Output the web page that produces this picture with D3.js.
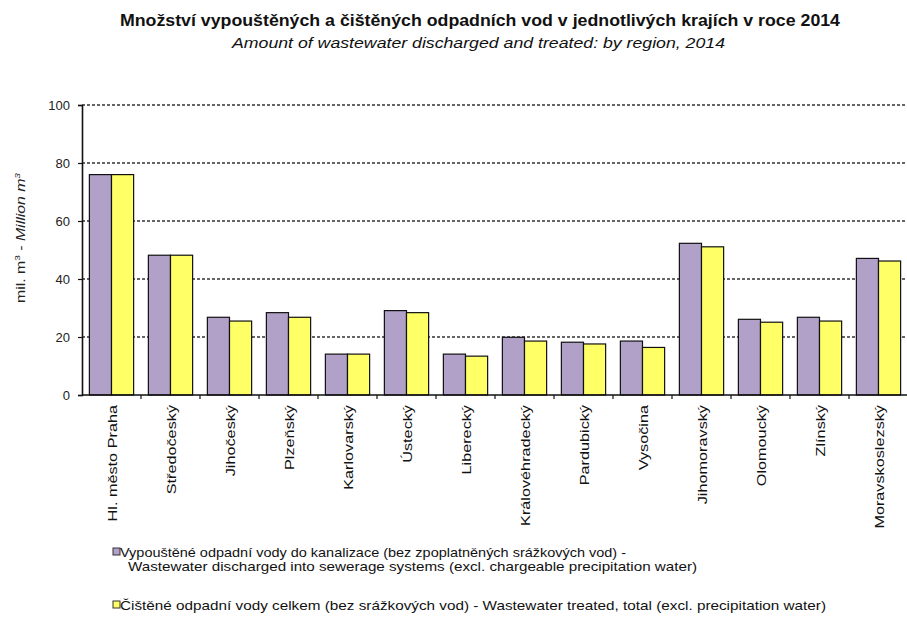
<!DOCTYPE html>
<html>
<head>
<meta charset="utf-8">
<script src="https://cdn.jsdelivr.net/npm/d3@7"></script>
<style>
  html, body { margin: 0; padding: 0; background: #fff; overflow: hidden; }
  svg { display: block; font-family: "Liberation Sans", Arial, sans-serif; }
</style>
</head>
<body>
<svg id="chart" width="907" height="617"></svg>
<script>
// Regions of the Czech Republic
const regions = [
  "Hl. město Praha", "Středočeský", "Jihočeský", "Plzeňský", "Karlovarský",
  "Ústecký", "Liberecký", "Královéhradecký", "Pardubický", "Vysočina",
  "Jihomoravský", "Olomoucký", "Zlínský", "Moravskoslezský"
];
// Wastewater discharged into sewerage systems, mil. m3
const discharged = [76.0, 48.2, 26.8, 28.4, 14.1, 29.1, 14.1, 19.9, 18.2, 18.6, 52.3, 26.1, 26.8, 47.1];
// Wastewater treated, total, mil. m3
const treated = [76.0, 48.2, 25.5, 26.8, 14.1, 28.4, 13.4, 18.6, 17.6, 16.4, 51.1, 25.1, 25.5, 46.2];
const yTicks = [0, 20, 40, 60, 80, 100];
const seriesKeys = ["discharged", "treated"];
const seriesColors = ["#b1a0c8", "#ffff66"];

const svg = d3.select("#chart");
const plotLeft = 82, plotRight = 908, plotTop = 105, plotBottom = 395;

const x0 = d3.scaleBand().domain(regions).range([plotLeft, plotRight])
  .paddingInner(0.25).paddingOuter(0.125);
const x1 = d3.scaleBand().domain(seriesKeys).range([0, x0.bandwidth()]);
const y = d3.scaleLinear().domain([0, 100]).range([plotBottom, plotTop]);
const color = d3.scaleOrdinal().domain(seriesKeys).range(seriesColors);

// Title (tall, condensed lettering)
svg.append("text").attr("x", 480).attr("y", 26).attr("text-anchor", "middle")
  .attr("font-size", 17).attr("font-weight", "bold").attr("fill", "#111")
  .attr("textLength", 720).attr("lengthAdjust", "spacingAndGlyphs")
  .text("Množství vypouštěných a čištěných odpadních vod v jednotlivých krajích v roce 2014");
svg.append("text").attr("x", 478.5).attr("y", 47.5).attr("text-anchor", "middle")
  .attr("font-size", 15.5).attr("font-style", "italic").attr("fill", "#111")
  .attr("textLength", 493).attr("lengthAdjust", "spacingAndGlyphs")
  .text("Amount of wastewater discharged and treated: by region, 2014");

// Dashed gridlines
svg.append("g").selectAll("line").data(yTicks.filter(d => d > 0)).join("line")
  .attr("x1", plotLeft).attr("x2", 907)
  .attr("y1", d => y(d)).attr("y2", d => y(d))
  .attr("stroke", "#333").attr("stroke-width", 1.4)
  .attr("stroke-dasharray", "3,2");

// Bars
const rows = regions.map((r, i) => ({ region: r, values: [
  { key: "discharged", value: discharged[i] },
  { key: "treated", value: treated[i] }
]}));
svg.append("g").selectAll("g").data(rows).join("g")
  .attr("transform", d => `translate(${x0(d.region)},0)`)
  .selectAll("rect").data(d => d.values).join("rect")
  .attr("x", d => x1(d.key))
  .attr("y", d => y(d.value))
  .attr("width", x1.bandwidth())
  .attr("height", d => y(0) - y(d.value))
  .attr("fill", d => color(d.key))
  .attr("stroke", "#111").attr("stroke-width", 1.2);

// Y axis
const yAxis = svg.append("g").attr("transform", `translate(${plotLeft},0)`)
  .call(d3.axisLeft(y).tickValues(yTicks).tickSize(4).tickPadding(8));
yAxis.select(".domain").attr("stroke", "#111").attr("stroke-width", 1.6);
yAxis.selectAll(".tick line").attr("stroke", "#111").attr("stroke-width", 1.2);
yAxis.selectAll(".tick text").attr("font-size", 13).attr("fill", "#222")
  .attr("font-family", "Liberation Sans, Arial, sans-serif");

// X axis line and category boundary ticks
const step = x0.step();
svg.append("line").attr("x1", plotLeft).attr("x2", 907).attr("y1", plotBottom).attr("y2", plotBottom)
  .attr("stroke", "#111").attr("stroke-width", 1.6);
svg.append("g").selectAll("line").data(regions.slice(1)).join("line")
  .attr("x1", d => x0(d) - step * x0.paddingInner() / 2)
  .attr("x2", d => x0(d) - step * x0.paddingInner() / 2)
  .attr("y1", plotBottom).attr("y2", plotBottom + 4)
  .attr("stroke", "#111").attr("stroke-width", 1.2);

// Rotated category labels
svg.append("g").selectAll("text").data(regions).join("text")
  .attr("transform", d => `translate(${x0(d) + x0.bandwidth() / 2 + 1},${plotBottom + 10}) rotate(-90) scale(1.3,1)`)
  .attr("text-anchor", "end").attr("dy", "0.35em")
  .attr("font-size", 12.5).attr("fill", "#111")
  .text(d => d);

// Y axis title
const yt = svg.append("text")
  .attr("transform", "translate(25,238) rotate(-90)")
  .attr("text-anchor", "middle").attr("font-size", 12.5).attr("fill", "#222")
  .attr("textLength", 130).attr("lengthAdjust", "spacingAndGlyphs");
yt.append("tspan").text("mil. m");
yt.append("tspan").attr("font-size", 8).attr("dy", -5).text("3");
yt.append("tspan").attr("dy", 5).text(" - ");
yt.append("tspan").attr("font-style", "italic").text("Million m");
yt.append("tspan").attr("font-style", "italic").attr("font-size", 8).attr("dy", -5).text("3");

// Legend
const legendItems = [
  { key: "discharged", y: 552, lines: [
    { text: "Vypouštěné odpadní vody do kanalizace (bez zpoplatněných srážkových vod) -", x: 120, len: 506 },
    { text: "Wastewater discharged into sewerage systems (excl. chargeable precipitation water)", x: 128, len: 569 }
  ]},
  { key: "treated", y: 605, lines: [
    { text: "Čištěné odpadní vody celkem (bez srážkových vod) - Wastewater treated, total (excl. precipitation water)", x: 120, len: 706 }
  ]}
];
const lg = svg.append("g").selectAll("g").data(legendItems).join("g");
lg.append("rect").attr("x", 113).attr("y", d => d.y - 4).attr("width", 7).attr("height", 7)
  .attr("fill", d => color(d.key)).attr("stroke", "#333").attr("stroke-width", 1);
lg.each(function(d) {
  d3.select(this).selectAll("text").data(d.lines).join("text")
    .attr("x", l => l.x).attr("y", (l, i) => d.y + 4.5 + i * 14)
    .attr("font-size", 13.5).attr("fill", "#111")
    .attr("textLength", l => l.len).attr("lengthAdjust", "spacingAndGlyphs")
    .text(l => l.text);
});
</script>
</body>
</html>
